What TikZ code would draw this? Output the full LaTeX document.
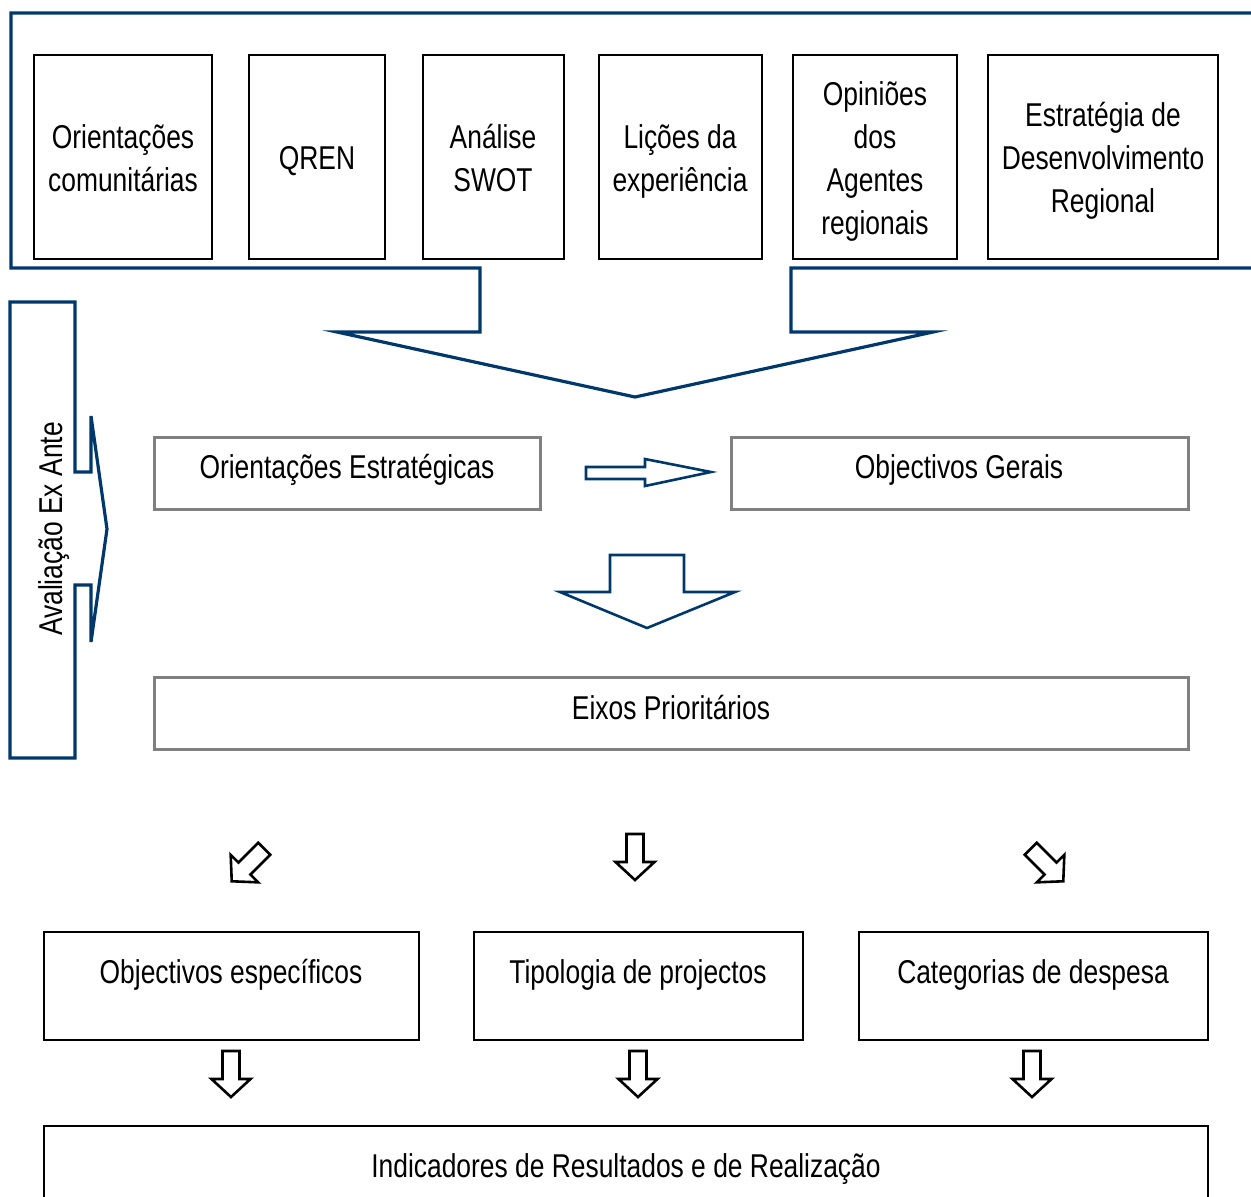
\documentclass[tikz,border=0pt]{standalone}
\usepackage{fontspec}
\setmainfont[FakeStretch=0.8]{Liberation Sans}
\usetikzlibrary{fit}
\definecolor{navy}{RGB}{0,56,107}
\definecolor{boxgray}{RGB}{128,128,128}

\tikzset{
  lbl/.style={font=\fontsize{16.5}{21.5}\selectfont, align=center, inner sep=0pt},
  srcbox/.style={draw=black, line width=1pt, inner sep=0pt},
  graybox/.style={draw=boxgray, line width=1.5pt, inner sep=0pt},
  outbox/.style={draw=black, line width=1pt, inner sep=0pt},
  callout/.style={draw=navy, line width=1.6pt, line join=miter},
  blockarrow/.style={draw=navy, line width=1.3pt, line join=miter},
  smallarrow/.style={draw=black, line width=1.3pt, line join=miter},
  pics/fatdown/.style={code={
    \draw[smallarrow] (-8.5,-23) -- (8.5,-23) -- (8.5,5) -- (19.5,5) -- (0,23)
      -- (-19.5,5) -- (-8.5,5) -- cycle;}},
}

\begin{document}
\begin{tikzpicture}[x=0.5pt,y=-0.5pt]
\useasboundingbox (0,0) rectangle (1251,1196);
\clip (0,0) rectangle (1251,1196);

% sources frame with its downward arrow
\draw[callout] (1270,13) -- (11,13) -- (11,268) -- (480,268) -- (480,332)
  -- (337,332) -- (635,397) -- (933,332) -- (791,332) -- (791,268) -- (1270,268);

% source boxes
\node[srcbox, fit={(34,55)(212,259)}] (s1) {};
\node[lbl] at (123,158) {Orientações\\comunitárias};
\node[srcbox, fit={(249,55)(385,259)}] (s2) {};
\node[lbl] at (317,161) {QREN};
\node[srcbox, fit={(423,55)(564,259)}] (s3) {};
\node[lbl] at (493,158) {Análise\\SWOT};
\node[srcbox, fit={(599,55)(762,259)}] (s4) {};
\node[lbl] at (680,161) {Lições da\\experiência};
\node[srcbox, fit={(793,55)(957,259)}] (s5) {};
\node[lbl] at (875,161) {Opiniões\\dos\\Agentes\\regionais};
\node[srcbox, fit={(988,55)(1218,259)}] (s6) {};
\node[lbl] at (1103,161) {Estratégia de\\Desenvolvimento\\Regional};

% ex ante evaluation callout
\draw[callout] (10,302) -- (75,302) -- (75,472) -- (91,472) -- (91,416) -- (107,529)
  -- (91,642) -- (91,585) -- (75,585) -- (75,758) -- (10,758) -- cycle;
\node[lbl, rotate=90] (exante) at (54,529) {Avaliação Ex Ante};

% strategy level
\node[graybox, fit={(154,437)(540,509)}] (oe) {};
\node[lbl] at (347,470) {Orientações Estratégicas};
\node[graybox, fit={(731,437)(1188,509)}] (og) {};
\node[lbl] at (959,470) {Objectivos Gerais};
\draw[blockarrow] (586,467) -- (645,467) -- (645,459) -- (711,472) -- (645,486)
  -- (645,479) -- (586,479) -- cycle;
\draw[blockarrow] (610,555) -- (684,555) -- (684,592) -- (735,592) -- (647,628)
  -- (560,592) -- (610,592) -- cycle;
\node[graybox, fit={(154,677)(1188,749)}] (ep) {};
\node[lbl] at (671,707) {Eixos Prioritários};

% branching arrows
\pic[rotate=-45] at (248,865) {fatdown};
\pic at (635,857) {fatdown};
\pic[rotate=45] at (1047,865) {fatdown};

% detail level
\node[outbox, fit={(44,932)(419,1040)}] (oes) {};
\node[lbl] at (231,975) {Objectivos específicos};
\node[outbox, fit={(474,932)(803,1040)}] (tp) {};
\node[lbl] at (638,975) {Tipologia de projectos};
\node[outbox, fit={(859,932)(1208,1040)}] (cd) {};
\node[lbl] at (1033,975) {Categorias de despesa};

\pic at (231,1074) {fatdown};
\pic at (638,1074) {fatdown};
\pic at (1032,1074) {fatdown};

\node[outbox, fit={(44,1126)(1208,1220)}] (ind) {};
\node[lbl] at (626,1169) {Indicadores de Resultados e de Realização};
\end{tikzpicture}
\end{document}
